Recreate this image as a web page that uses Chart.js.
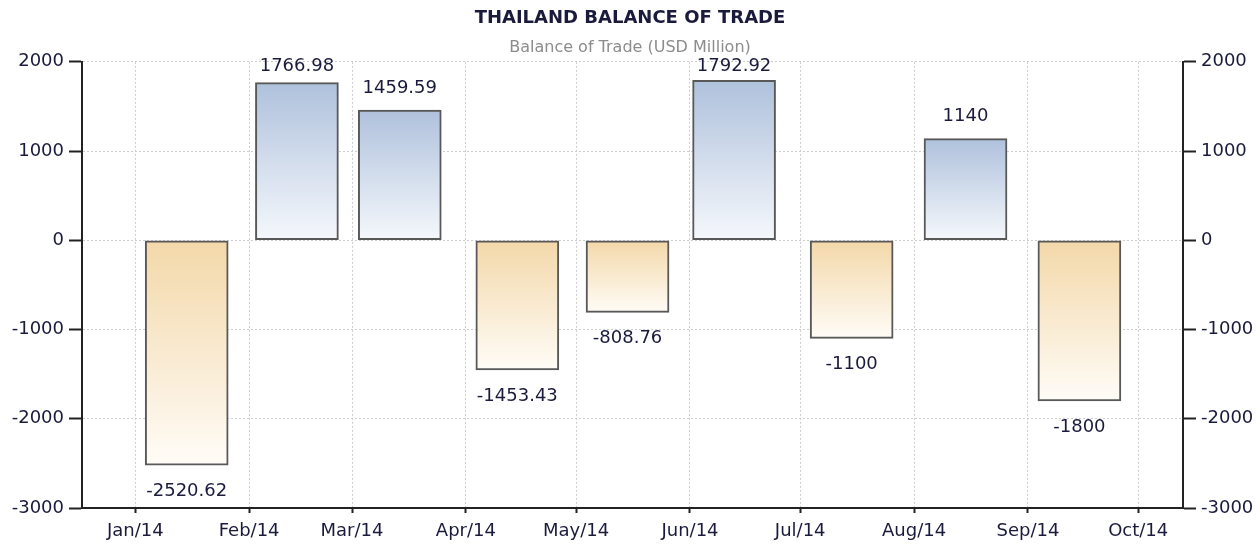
<!DOCTYPE html>
<html>
<head>
<meta charset="utf-8">
<script src="https://cdn.jsdelivr.net/npm/chart.js@4.4.1/dist/chart.umd.min.js"></script>
<style>
html,body{margin:0;padding:0;background:#ffffff;}
#wrap{width:1260px;height:545px;position:relative;}
</style>
</head>
<body>
<div id="wrap"><canvas id="c"></canvas></div>
<script>
// ---- data ----
const TITLE = 'THAILAND BALANCE OF TRADE';
const SUBTITLE = 'Balance of Trade (USD Million)';
const barDates = ['2014-01-15','2014-02-14','2014-03-14','2014-04-15','2014-05-15','2014-06-13','2014-07-15','2014-08-15','2014-09-15'];
const balance = [-2520.62, 1766.98, 1459.59, -1453.43, -808.76, 1792.92, -1100, 1140, -1800];
const tickDates = ['2014-01-01','2014-02-01','2014-03-01','2014-04-01','2014-05-01','2014-06-01','2014-07-01','2014-08-01','2014-09-01','2014-10-01'];
const tickLabels = ['Jan/14','Feb/14','Mar/14','Apr/14','May/14','Jun/14','Jul/14','Aug/14','Sep/14','Oct/14'];
const yTicks = [-3000, -2000, -1000, 0, 1000, 2000];
const axisRangeDays = [-14.5, 285.2]; // days relative to 2014-01-01

// ---- helpers ----
const ORIGIN = Date.UTC(2014, 0, 1);
function dayNum(s){ const [y,m,d] = s.split('-').map(Number); return (Date.UTC(y, m-1, d) - ORIGIN) / 86400000; }
const tickDays = tickDates.map(dayNum);

const FONT = 'DejaVu Sans';
const INK = '#1a1a3c';
const GRID = '#cdcdcd';
const AXIS = '#222222';

function barFill(c){
  const chart = c.chart; const ys = chart.scales.y;
  if (!ys || !chart.chartArea || !c.raw) return '#cccccc';
  const v = c.raw.y;
  const p0 = ys.getPixelForValue(0), p1 = ys.getPixelForValue(v);
  const top = Math.min(p0, p1), bot = Math.max(p0, p1);
  if (!isFinite(top) || !isFinite(bot) || bot - top < 1) return '#cccccc';
  const g = chart.ctx.createLinearGradient(0, top, 0, bot);
  if (v >= 0) { g.addColorStop(0, '#afc1dc'); g.addColorStop(1, '#f5f8fc'); }
  else { g.addColorStop(0, '#f3d8a9'); g.addColorStop(1, '#fffcf7'); }
  return g;
}

const valueLabels = {
  id: 'valueLabels',
  afterDatasetsDraw(chart){
    const meta = chart.getDatasetMeta(0);
    const ctx = chart.ctx;
    ctx.save();
    ctx.font = '18px "' + FONT + '"';
    ctx.fillStyle = INK;
    ctx.textAlign = 'center';
    ctx.textBaseline = 'middle';
    meta.data.forEach((el, i) => {
      const v = balance[i];
      const y = v >= 0 ? Math.max(el.y - 22, chart.chartArea.top + 5) : el.y + 26;
      ctx.fillText(String(v), el.x, y);
    });
    ctx.restore();
  }
};

function yAxis(pos, width){
  return {
    position: pos,
    min: yTicks[0], max: yTicks[yTicks.length-1],
    afterBuildTicks: s => { s.ticks = yTicks.map(v => ({value: v})); },
    ticks: { color: INK, font: {family: FONT, size: 18}, padding: 5, callback: v => String(v) },
    grid: { color: GRID, lineWidth: 1, drawOnChartArea: pos === 'left', tickLength: 13, tickColor: AXIS, tickWidth: 2, tickBorderDash: [] },
    border: { display: true, color: AXIS, width: 2, dash: [2, 2] },
    afterFit: s => { s.width = width; }
  };
}

new Chart(document.getElementById('c'), {
  type: 'bar',
  data: {
    datasets: [{
      data: barDates.map((d, i) => ({x: dayNum(d), y: balance[i]})),
      backgroundColor: barFill,
      borderColor: '#585858',
      borderWidth: 2,
      borderSkipped: false,
      barThickness: 83
    }]
  },
  options: {
    responsive: true,
    maintainAspectRatio: false,
    animation: false,
    layout: { padding: 0 },
    plugins: {
      legend: { display: false },
      tooltip: { enabled: false },
      title: { display: true, text: TITLE, color: INK, font: {family: FONT, size: 18, weight: 'bold'}, padding: {top: 8, bottom: 0} },
      subtitle: { display: true, text: SUBTITLE, color: '#8c8c8c', font: {family: FONT, size: 16}, padding: {top: 9, bottom: 4} }
    },
    scales: {
      x: {
        type: 'linear',
        position: 'bottom',
        min: axisRangeDays[0], max: axisRangeDays[1],
        offset: false,
        afterBuildTicks: s => { s.ticks = tickDays.map(v => ({value: v})); },
        ticks: { autoSkip: false, maxRotation: 0, color: INK, font: {family: FONT, size: 18}, padding: 8,
                 callback: (v, i) => tickLabels[i] },
        grid: { offset: false, color: GRID, lineWidth: 1, tickLength: 5, tickColor: AXIS, tickWidth: 2, tickBorderDash: [] },
        border: { display: true, color: AXIS, width: 2, dash: [2, 2] },
        afterFit: s => { s.height = 37; }
      },
      y: yAxis('left', 82),
      y2: yAxis('right', 77)
    }
  },
  plugins: [valueLabels]
});
</script>
</body>
</html>
